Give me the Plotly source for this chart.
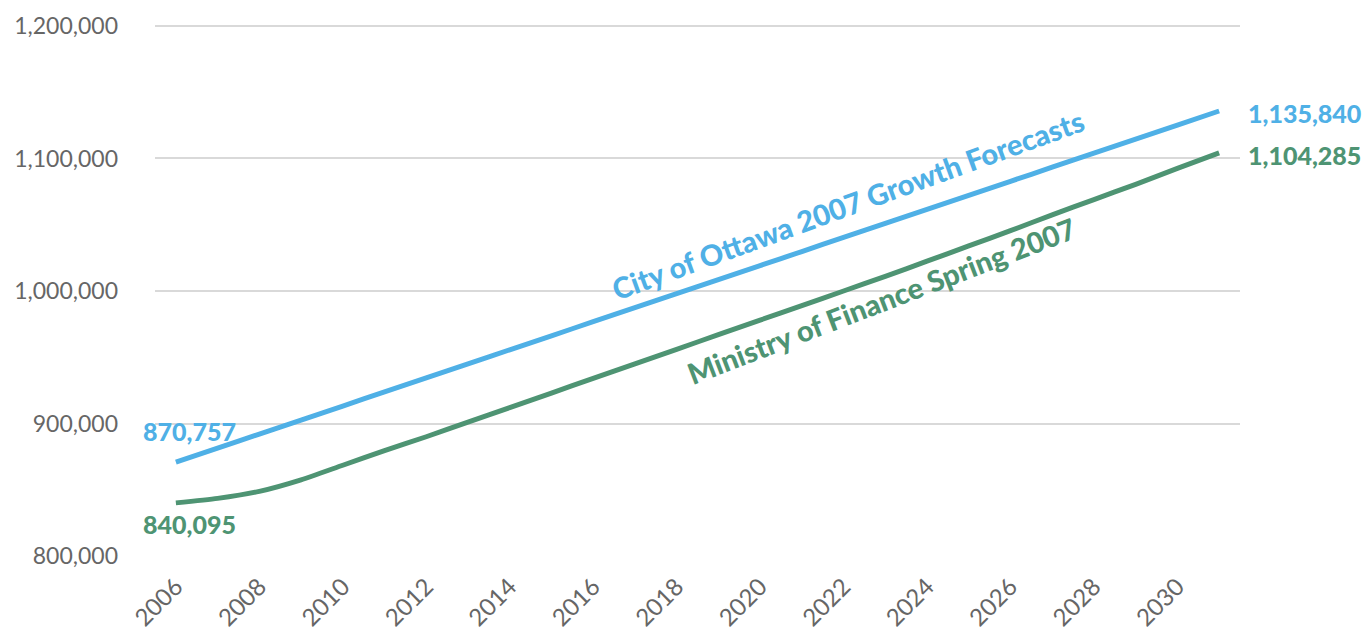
import plotly.graph_objects as go

years = list(range(2006, 2032))
ottawa = [870757, 881400, 892000, 902600, 913200, 923800, 934400, 945000, 955600,
          966200, 976800, 987400, 998000, 1008600, 1019200, 1029800, 1040400, 1051000,
          1061600, 1072200, 1082800, 1093400, 1104000, 1114600, 1125200, 1135840]
ministry = [840095, 843500, 848800, 857500, 868500, 879500, 890000, 901000, 912000,
            923000, 934000, 945000, 956000, 967000, 978000, 989000, 1000000, 1011000,
            1022500, 1034000, 1045500, 1057500, 1069000, 1080500, 1092500, 1104285]
ytick_vals = [800000, 900000, 1000000, 1100000, 1200000]

BLUE = "#4FB0E6"
GREEN = "#4E9473"
FONT = "Lato"
TICK = "#666666"

fig = go.Figure()
fig.add_trace(go.Scatter(x=years, y=ottawa, mode="lines",
                         line=dict(color=BLUE, width=5, shape="spline", smoothing=0.4),
                         showlegend=False, hoverinfo="skip"))
fig.add_trace(go.Scatter(x=years, y=ministry, mode="lines",
                         line=dict(color=GREEN, width=5, shape="spline", smoothing=0.6),
                         showlegend=False, hoverinfo="skip"))

lab_font = lambda c: dict(family=FONT, size=25, color=c, weight=900)
ann = []
ann.append(dict(x=years[0], y=ottawa[0], text=f"{ottawa[0]:,}", xanchor="left", yanchor="middle",
                xshift=-35, yshift=31, showarrow=False, font=lab_font(BLUE)))
ann.append(dict(x=years[0], y=ministry[0], text=f"{ministry[0]:,}", xanchor="left", yanchor="middle",
                xshift=-35, yshift=-21, showarrow=False, font=lab_font(GREEN)))
ann.append(dict(x=years[-1], y=ottawa[-1], text=f"{ottawa[-1]:,}", xanchor="left", yanchor="middle",
                xshift=27, yshift=-2, showarrow=False, font=lab_font(BLUE)))
ann.append(dict(x=years[-1], y=ministry[-1], text=f"{ministry[-1]:,}", xanchor="left", yanchor="middle",
                xshift=27, yshift=-2, showarrow=False, font=lab_font(GREEN)))
ann.append(dict(x=2022.1, y=1065500, text="City of Ottawa 2007 Growth Forecasts",
                textangle=-20, showarrow=False,
                font=dict(family=FONT, size=29, color=BLUE, weight=900)))
ann.append(dict(x=2022.9, y=992500, text="Ministry of Finance Spring 2007",
                textangle=-21, showarrow=False,
                font=dict(family=FONT, size=29, color=GREEN, weight=900)))

fig.update_layout(
    width=1372, height=632,
    margin=dict(l=155, r=132, t=24, b=76),
    plot_bgcolor="white", paper_bgcolor="white",
    font=dict(family=FONT, color=TICK, size=23),
    annotations=ann,
    xaxis=dict(range=[2005.5, 2031.5], tick0=2006, dtick=2, tickangle=-45,
               showgrid=False, zeroline=False, showline=False, ticks="",
               automargin=False, ticklabelstandoff=11,
               tickfont=dict(size=24, color=TICK, weight=400)),
    yaxis=dict(range=[800000, 1201500], tickvals=ytick_vals, tickformat=",",
               showgrid=True, gridcolor="#D9D9D9", gridwidth=1.5, zeroline=False,
               showline=False, ticks="", automargin=False, ticklabelstandoff=36,
               tickfont=dict(size=23, color=TICK, weight=400)),
)

fig.write_html("out.html", config={"displayModeBar": False},
               post_script="document.body.style.margin='0';document.body.style.overflow='hidden';")
